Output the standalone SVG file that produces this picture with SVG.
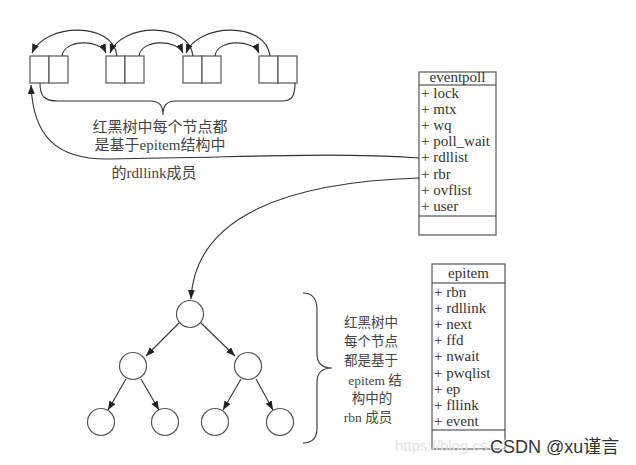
<svg xmlns="http://www.w3.org/2000/svg" width="636" height="465" viewBox="0 0 636 465">
<defs>
<marker id="ah" markerUnits="userSpaceOnUse" markerWidth="10" markerHeight="8" refX="9" refY="3.5" orient="auto">
<path d="M0,0 L9,3.5 L0,7 z" fill="#222"/>
</marker>
<style>
.cell{fill:#fff;stroke:#555;stroke-width:1.2}
.box{fill:#fff;stroke:#555;stroke-width:1.2}
.ln{fill:none;stroke:#333;stroke-width:1.1}
.arr{fill:none;stroke:#333;stroke-width:1.1;marker-end:url(#ah)}
.nd{fill:#fff;stroke:#555;stroke-width:1.2}
.t{font-family:"Liberation Serif","Noto Sans CJK SC",serif;fill:#444}
.f{font-family:"Liberation Serif",serif;font-size:15px;fill:#333}
</style>
</defs>
<rect width="636" height="465" fill="#fff"/>

<g id="list1"><rect class="cell" x="30" y="56" width="19" height="27"/><rect class="cell" x="49" y="56" width="19" height="27"/></g>
<g id="list2"><rect class="cell" x="106" y="56" width="19" height="27"/><rect class="cell" x="125" y="56" width="19" height="27"/></g>
<g id="list3"><rect class="cell" x="183" y="56" width="19" height="27"/><rect class="cell" x="202" y="56" width="19" height="27"/></g>
<g id="list4"><rect class="cell" x="259" y="56" width="19" height="27"/><rect class="cell" x="278" y="56" width="19" height="27"/></g>

<g id="eventpoll">
<rect class="box" x="419" y="72" width="77" height="163"/>
<line class="ln" x1="419" y1="85" x2="496" y2="85"/>
<line class="ln" x1="419" y1="216" x2="496" y2="216"/>
<text class="f" x="457.5" y="82" text-anchor="middle">eventpoll</text>
<text class="f" x="421" y="97.5">+ lock</text>
<text class="f" x="421" y="113.7">+ mtx</text>
<text class="f" x="421" y="129.9">+ wq</text>
<text class="f" x="421" y="146.1">+ poll_wait</text>
<text class="f" x="421" y="162.3">+ rdllist</text>
<text class="f" x="421" y="178.5">+ rbr</text>
<text class="f" x="421" y="194.7">+ ovflist</text>
<text class="f" x="421" y="210.9">+ user</text>
</g>

<g id="epitem">
<rect class="box" x="432" y="264" width="73" height="185"/>
<line class="ln" x1="432" y1="283" x2="505" y2="283"/>
<line class="ln" x1="432" y1="430" x2="505" y2="430"/>
<text class="f" x="468.5" y="278" text-anchor="middle">epitem</text>
<text class="f" x="434" y="297">+ rbn</text>
<text class="f" x="434" y="313.1">+ rdllink</text>
<text class="f" x="434" y="329.2">+ next</text>
<text class="f" x="434" y="345.3">+ ffd</text>
<text class="f" x="434" y="361.4">+ nwait</text>
<text class="f" x="434" y="377.5">+ pwqlist</text>
<text class="f" x="434" y="393.6">+ ep</text>
<text class="f" x="434" y="409.7">+ fllink</text>
<text class="f" x="434" y="425.8">+ event</text>
</g>

<g id="tree">
<circle id="n0" class="nd" cx="190" cy="314" r="13.5"/>
<circle id="n1" class="nd" cx="133" cy="366" r="13.5"/>
<circle id="n2" class="nd" cx="248" cy="366" r="13.5"/>
<circle id="n3" class="nd" cx="101" cy="422" r="13.5"/>
<circle id="n4" class="nd" cx="165" cy="422" r="13.5"/>
<circle id="n5" class="nd" cx="215" cy="422" r="13.5"/>
<circle id="n6" class="nd" cx="280" cy="422" r="13.5"/>
</g>

<g id="connectors">
<path class="arr" d="M62,56 C64,39 100,39 106,53"/>
<path class="arr" d="M139,56 C141,39 177,39 183,53"/>
<path class="arr" d="M215,56 C217,39 253,39 259,53"/>
<path class="arr" d="M117,56 C113,21 45,23 32,53"/>
<path class="arr" d="M193,56 C189,21 121,23 110,53"/>
<path class="arr" d="M270,56 C266,21 198,23 186,53"/>
<path class="ln" d="M40,83 C40,97 45,101 58,101 L150,101 C160,101 163,106 163,115 C163,106 166,101 176,101 L282,101 C292,101 295,96 295,83"/>
<path class="arr" d="M419,158 C330,152 260,157 110,159 C55,160 33,135 31,85"/>
<path class="arr" d="M419,178 C290,182 195,215 191,299"/>
<line class="arr" x1="179" y1="323" x2="146" y2="356"/>
<line class="arr" x1="201" y1="323" x2="235" y2="356"/>
<line class="arr" x1="126" y1="379" x2="108" y2="410"/>
<line class="arr" x1="141" y1="379" x2="159" y2="410"/>
<line class="arr" x1="241" y1="379" x2="223" y2="410"/>
<line class="arr" x1="256" y1="379" x2="273" y2="410"/>
<path class="ln" d="M303,293 Q317,293 317,310 L317,354 Q317,368 332,368 Q317,368 317,382 L317,428 Q317,443 303,443"/>
</g>

<g id="labels">
<text class="t" font-size="15" x="160" y="132" text-anchor="middle">红黑树中每个节点都</text>
<text class="t" font-size="15" x="160" y="150" text-anchor="middle">是基于epitem结构中</text>
<text class="t" font-size="15" x="154" y="178" text-anchor="middle">的rdllink成员</text>
<text class="t" font-size="13.5" x="371" y="327" text-anchor="middle">红黑树中</text>
<text class="t" font-size="13.5" x="371" y="346" text-anchor="middle">每个节点</text>
<text class="t" font-size="13.5" x="371" y="365" text-anchor="middle">都是基于</text>
<text class="t" font-size="13.5" x="375" y="385" text-anchor="middle">epitem 结</text>
<text class="t" font-size="13.5" x="372" y="403" text-anchor="middle">构中的</text>
<text class="t" font-size="13.5" x="368" y="422" text-anchor="middle">rbn 成员</text>
</g>

<g id="watermark">
<text x="395" y="451" font-family="Liberation Sans, sans-serif" font-size="15" fill="#e2e2e2">https://blog.cs</text>
<text x="490" y="453" font-family="Liberation Sans, 'Noto Sans CJK SC', sans-serif" font-size="18" fill="#333" stroke="#fff" stroke-width="2" paint-order="stroke">CSDN @xu谨言</text>
</g>
</svg>
